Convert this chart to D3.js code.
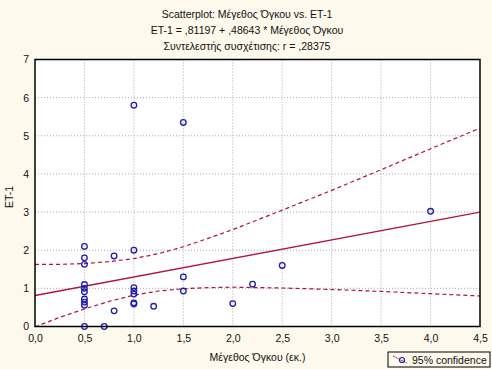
<!DOCTYPE html>
<html>
<head>
<meta charset="utf-8">
<script src="https://cdn.jsdelivr.net/npm/d3@7"></script>
<style>
  body { margin: 0; background: #fdf9ec; }
  text { font-family: "Liberation Sans", Arial, sans-serif; fill: #111; }
</style>
</head>
<body>
<div id="chart"></div>
<script>
//scatter points: tumour size (x) and ET-1 (y)
const sizeX = [0.5, 0.5, 0.5, 0.5, 0.5, 0.5, 0.5, 0.5, 0.5, 0.5,
               0.7, 0.8, 0.8,
               1.0, 1.0, 1.0, 1.0, 1.0, 1.0, 1.0,
               1.2, 1.5, 1.5, 1.5, 2.0, 2.2, 2.5, 4.0]
const et1Y  = [2.1, 1.8, 1.63, 1.1, 1.0, 0.91, 0.72, 0.64, 0.56, 0.0,
               0.0, 1.85, 0.41,
               5.8, 2.0, 1.02, 0.93, 0.85, 0.62, 0.59,
               0.53, 5.35, 1.3, 0.93, 0.6, 1.11, 1.6, 3.02]

//regression line ET-1 = ,81197 + ,48643 * x
const fitX = [0, 4.5]
const fitY = [0.812, 3.001]

//95% confidence band
const bandX     = [0, 0.25, 0.5, 0.75, 1.0, 1.25, 1.5, 1.75, 2.0, 2.5, 3.0, 3.5, 4.0, 4.5]
const bandUpper = [1.63, 1.63, 1.65, 1.70, 1.78, 1.91, 2.09, 2.31, 2.54, 3.05, 3.57, 4.11, 4.66, 5.20]
const bandLower = [-0.01, 0.24, 0.46, 0.66, 0.82, 0.93, 0.99, 1.02, 1.03, 1.01, 0.97, 0.92, 0.86, 0.80]

//tick values
const xTicks = [0, 0.5, 1, 1.5, 2, 2.5, 3, 3.5, 4, 4.5]
const yTicks = [0, 1, 2, 3, 4, 5, 6, 7]

const titleLines = [
  "Scatterplot: Μέγεθος Όγκου vs. ET-1",
  "ET-1 = ,81197 + ,48643 * Μέγεθος Όγκου",
  "Συντελεστής συσχέτισης: r = ,28375"
]

//set the dimensions and margins of the graph
const W = 492, H = 369
const margin = {top: 59.5, right: 12, bottom: 42.5, left: 35},
  width = W - margin.left - margin.right,
  height = H - margin.top - margin.bottom

const lineColor = "#b3123d"
const pointColor = "#1e1eaa"
const fontSize = "10.5px"

const root = d3.select("#chart")
  .append("svg")
    .attr("width", W)
    .attr("height", H)

root.append("rect")
  .attr("width", W)
  .attr("height", H)
  .attr("fill", "#fdf9ec")

const svg = root.append("g")
  .attr("transform", `translate(${margin.left}, ${margin.top})`)

//scales
const x = d3.scaleLinear().domain([0, 4.5]).range([0, width])
const y = d3.scaleLinear().domain([0, 7]).range([height, 0])

//plot background
svg.append("rect")
  .attr("width", width)
  .attr("height", height)
  .attr("fill", "white")

//dotted grid
svg.append("g")
  .selectAll("line")
  .data(xTicks.slice(1, -1))
  .join("line")
    .attr("x1", d => x(d)).attr("x2", d => x(d))
    .attr("y1", 0).attr("y2", height)
    .attr("stroke", "#a8a8a8")
    .attr("stroke-dasharray", "1,2")
svg.append("g")
  .selectAll("line")
  .data(yTicks.slice(1, -1))
  .join("line")
    .attr("x1", 0).attr("x2", width)
    .attr("y1", d => y(d)).attr("y2", d => y(d))
    .attr("stroke", "#a8a8a8")
    .attr("stroke-dasharray", "1,2")

//clip lines to the plot area
svg.append("clipPath")
  .attr("id", "clip")
  .append("rect")
    .attr("width", width)
    .attr("height", height)

const line = d3.line()
  .x(d => x(d[0]))
  .y(d => y(d[1]))

const lines = svg.append("g").attr("clip-path", "url(#clip)")

lines.append("path")
  .attr("d", line(fitX.map((d, i) => [d, fitY[i]])))
  .attr("fill", "none")
  .attr("stroke", lineColor)
  .attr("stroke-width", 1.3)

lines.selectAll("path.band")
  .data([bandUpper, bandLower])
  .join("path")
    .attr("class", "band")
    .attr("d", b => line(bandX.map((d, i) => [d, b[i]])))
    .attr("fill", "none")
    .attr("stroke", lineColor)
    .attr("stroke-width", 1.2)
    .attr("stroke-dasharray", "4,3")

//points
svg.append("g")
  .selectAll("circle")
  .data(sizeX.map((d, i) => [d, et1Y[i]]))
  .join("circle")
    .attr("cx", d => x(d[0]))
    .attr("cy", d => y(d[1]))
    .attr("r", 2.8)
    .attr("fill", "none")
    .attr("stroke", pointColor)
    .attr("stroke-width", 1.3)

//frame
svg.append("rect")
  .attr("width", width)
  .attr("height", height)
  .attr("fill", "none")
  .attr("stroke", "black")
  .attr("stroke-width", 1.5)

//axes
svg.append("g")
  .attr("transform", `translate(0, ${height})`)
  .call(d3.axisBottom(x).tickValues(xTicks).tickSize(0).tickPadding(8)
    .tickFormat(d => d3.format(".1f")(d).replace(".", ",")))
  .call(g => g.select(".domain").remove())
  .selectAll("text")
    .style("font-size", fontSize)
    .style("font-family", "Liberation Sans, Arial, sans-serif")

svg.append("g")
  .call(d3.axisLeft(y).tickValues(yTicks).tickSize(0).tickPadding(6)
    .tickFormat(d3.format("d")))
  .call(g => g.select(".domain").remove())
  .selectAll("text")
    .style("font-size", fontSize)
    .style("font-family", "Liberation Sans, Arial, sans-serif")

//axis titles
root.append("text")
  .attr("x", margin.left + width / 2)
  .attr("y", 361)
  .attr("text-anchor", "middle")
  .style("font-size", fontSize)
  .text("Μέγεθος Όγκου (εκ.)")

root.append("text")
  .attr("transform", `translate(13, ${margin.top + height / 2 + 4}) rotate(-90)`)
  .attr("text-anchor", "middle")
  .style("font-size", fontSize)
  .text("ET-1")

//title lines
root.selectAll("text.title")
  .data(titleLines)
  .join("text")
    .attr("class", "title")
    .attr("x", 247)
    .attr("y", (d, i) => 18 + i * 16)
    .attr("text-anchor", "middle")
    .style("font-size", fontSize)
    .text(d => d)

//legend
const legend = root.append("g").attr("transform", "translate(388, 352)")
legend.append("rect")
  .attr("width", 102)
  .attr("height", 15)
  .attr("fill", "#fdf9ec")
  .attr("stroke", "black")
legend.append("line")
  .attr("x1", 5).attr("y1", 4)
  .attr("x2", 19).attr("y2", 11)
  .attr("stroke", lineColor)
  .attr("stroke-dasharray", "2,1")
legend.append("circle")
  .attr("cx", 14).attr("cy", 8)
  .attr("r", 2.5)
  .attr("fill", "none")
  .attr("stroke", pointColor)
  .attr("stroke-width", 1.2)
legend.append("text")
  .attr("x", 24)
  .attr("y", 11.5)
  .style("font-size", fontSize)
  .text("95% confidence")
</script>
</body>
</html>
